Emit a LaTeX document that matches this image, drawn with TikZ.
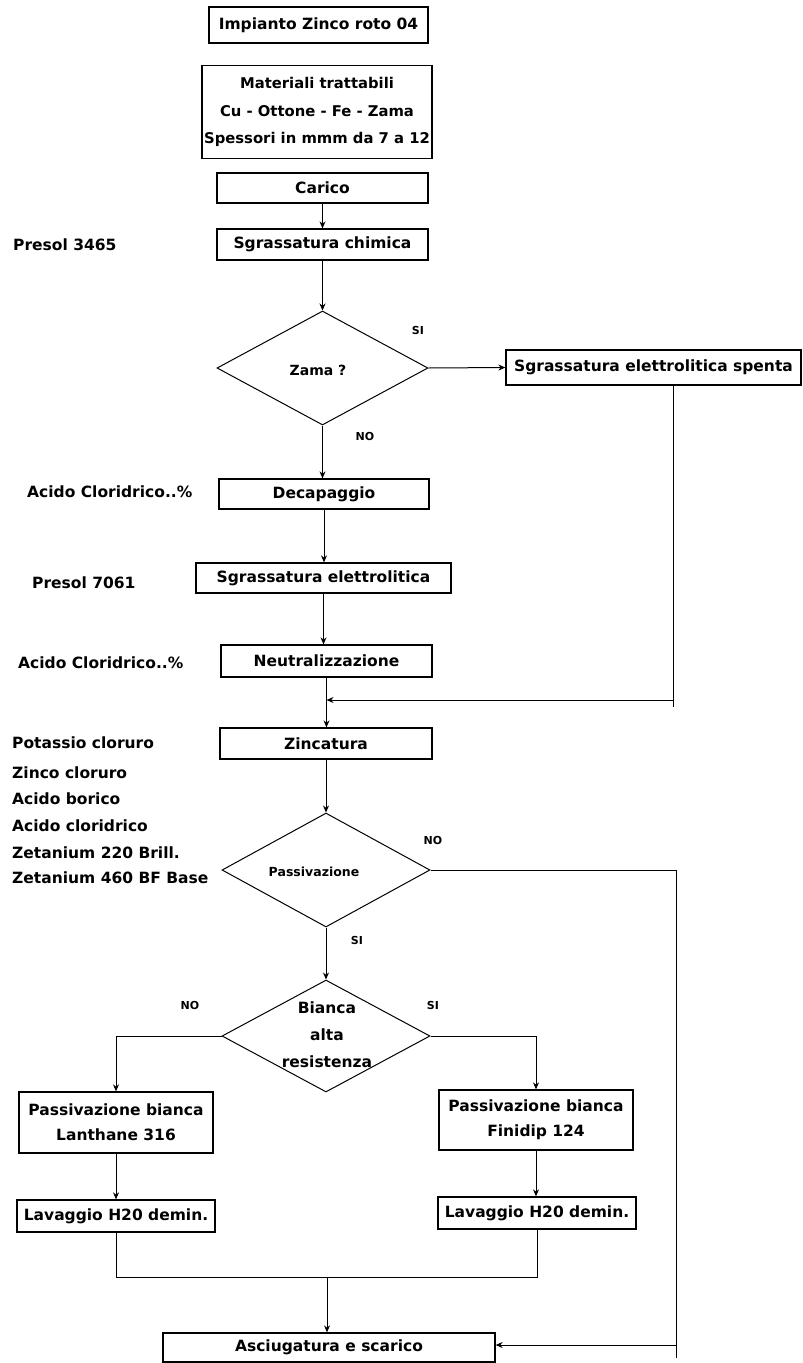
\documentclass[tikz,border=0pt]{standalone}
\usepackage{fontspec}
\setmainfont{DejaVu Sans}
\usetikzlibrary{shapes.geometric,arrows.meta}
\begin{document}
\begin{tikzpicture}[x=1pt,y=-1pt,
  font=\bfseries\fontsize{15.5}{18}\selectfont,
  box/.style={draw,line width=1.3pt,inner sep=0pt,align=center},
  dia/.style={draw,diamond,line width=1pt,inner sep=0pt},
  lbl/.style={anchor=west,inner sep=0pt},
  yn/.style={inner sep=0pt,font=\bfseries\fontsize{11}{13}\selectfont},
  dtext/.style={inner sep=0pt},
  conn/.style={line width=1pt},
  arr/.style={conn,-{Stealth[length=7pt,width=6pt]}}]
\useasboundingbox (0,0) rectangle (803,1363);

% boxes
\node[box,minimum width=219pt,minimum height=36pt] (title) at (318.5,25) {Impianto Zinco roto 04};
\node[box,minimum width=230pt,minimum height=93pt,font=\bfseries\fontsize{14.8}{27.5}\selectfont] (mat) at (317,112) {Materiali trattabili\\Cu - Ottone - Fe - Zama\\Spessori in mmm da 7 a 12};
\node[box,minimum width=211pt,minimum height=30pt] (carico) at (322.5,188) {Carico};
\node[box,minimum width=211pt,minimum height=31pt] (sgrch) at (322.5,244.5) {Sgrassatura chimica};
\node[dia,minimum width=211pt,minimum height=114pt] (zama) at (322.5,368) {};
\node[dtext,font=\bfseries\fontsize{14}{16}\selectfont] (zamat) at (318,370) {Zama ?};
\node[box,minimum width=295pt,minimum height=35pt] (spenta) at (653.5,367.5) {Sgrassatura elettrolitica spenta};
\node[box,minimum width=210pt,minimum height=30pt] (decap) at (324,494) {Decapaggio};
\node[box,minimum width=255pt,minimum height=30pt] (sgrel) at (323.5,578) {Sgrassatura elettrolitica};
\node[box,minimum width=211pt,minimum height=32pt] (neutr) at (326.5,661) {Neutralizzazione};
\node[box,minimum width=212pt,minimum height=31pt] (zinc) at (326,743.5) {Zincatura};
\node[dia,minimum width=208pt,minimum height=114pt] (pass) at (326,870) {};
\node[dtext,font=\bfseries\fontsize{12.5}{15}\selectfont] (passt) at (314,872) {Passivazione};
\node[dia,minimum width=208pt,minimum height=112pt] (bianca) at (326,1036) {};
\node[dtext] (bi1) at (327,1008) {Bianca};
\node[dtext] (bi2) at (327,1035) {alta};
\node[dtext] (bi3) at (327,1062) {resistenza};
\node[box,minimum width=194pt,minimum height=61pt,font=\bfseries\fontsize{15.5}{25}\selectfont] (pbl) at (116,1122.5) {Passivazione bianca\\Lanthane 316};
\node[box,minimum width=194pt,minimum height=60pt,font=\bfseries\fontsize{15.5}{25}\selectfont] (pbf) at (536,1120) {Passivazione bianca\\Finidip 124};
\node[box,minimum width=198pt,minimum height=32pt] (lavl) at (116,1216) {Lavaggio H20 demin.};
\node[box,minimum width=198pt,minimum height=32pt] (lavr) at (537,1213) {Lavaggio H20 demin.};
\node[box,minimum width=332pt,minimum height=29pt] (asci) at (329,1347.5) {Asciugatura e scarico};

% side labels
\node[lbl] (l1) at (13,245) {Presol 3465};
\node[lbl] (l2) at (27,492) {Acido Cloridrico..\%};
\node[lbl] (l3) at (32,583) {Presol 7061};
\node[lbl] (l4) at (18,663) {Acido Cloridrico..\%};
\node[lbl] (l5) at (12,743) {Potassio cloruro};
\node[lbl] (l6) at (12,773) {Zinco cloruro};
\node[lbl] (l7) at (12,799) {Acido borico};
\node[lbl] (l8) at (12,826) {Acido cloridrico};
\node[lbl] (l9) at (12,853) {Zetanium 220 Brill.};
\node[lbl] (l10) at (12,878) {Zetanium 460 BF Base};

% yes/no labels
\node[yn] (si1) at (418,330) {SI};
\node[yn] (no1) at (365,436) {NO};
\node[yn] (no2) at (433,840) {NO};
\node[yn] (si2) at (357,940) {SI};
\node[yn] (no3) at (190,1005) {NO};
\node[yn] (si3) at (433,1005) {SI};

% helper coordinates
\coordinate (m1) at (673,707);
\coordinate (j1) at (673,700);
\coordinate (r1) at (676,870);
\coordinate (r2) at (676,1358);
\coordinate (r3) at (676,1345);
\coordinate (b1) at (116,1277);
\coordinate (b2) at (537,1277);
\coordinate (b3) at (327,1277);

% connectors
\draw[arr] (carico) -- (sgrch);
\draw[arr] (sgrch) -- (zama.north);
\draw[arr] (zama.east) -- (spenta.west);
\draw[arr] (zama.south) -- (zama.south |- decap.north);
\draw[arr] (decap.south) -- (decap.south |- sgrel.north);
\draw[arr] (sgrel.south) -- (sgrel.south |- neutr.north);
\draw[arr] (neutr.south) -- (neutr.south |- zinc.north);
\draw[conn] (spenta.south -| m1) -- (m1);
\draw[arr] (j1) -- (j1 -| neutr.south);
\draw[arr] (zinc.south) -- (zinc.south |- pass.north);
\draw[conn] (pass.east) -- (r1) -- (r2);
\draw[arr] (r3) -- (r3 -| asci.east);
\draw[arr] (pass.south) -- (pass.south |- bianca.north);
\draw[arr] (bianca.west) -| (pbl.north);
\draw[arr] (bianca.east) -| (pbf.north);
\draw[arr] (pbl.south) -- (pbl.south |- lavl.north);
\draw[arr] (pbf.south) -- (pbf.south |- lavr.north);
\draw[conn] (lavl.south) -- (b1) -- (b2) -- (lavr.south);
\draw[arr] (b3) -- (b3 |- asci.north);
\end{tikzpicture}
\end{document}
